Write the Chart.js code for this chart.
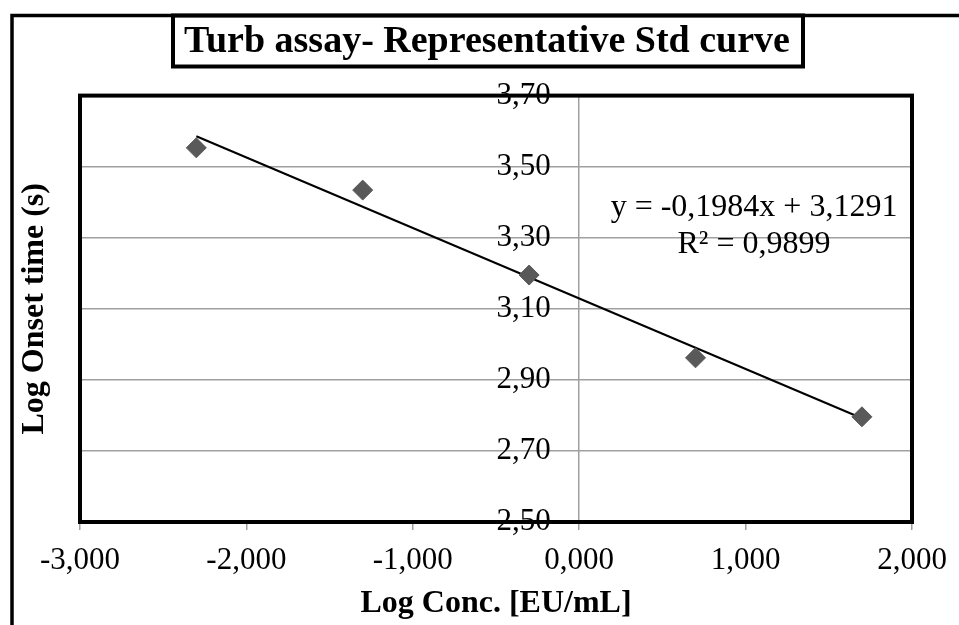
<!DOCTYPE html>
<html>
<head>
<meta charset="utf-8">
<script src="https://cdn.jsdelivr.net/npm/chart.js@4.4.1/dist/chart.umd.min.js"></script>
<style>
  html, body { margin: 0; padding: 0; background: #fff; }
</style>
</head>
<body>
<canvas id="stdcurve" width="959" height="625"></canvas>
<script>
// Data
const logConc = [-2.301, -1.301, -0.301, 0.699, 1.699];
const logOnset = [3.553, 3.434, 3.195, 2.962, 2.796];

// Excel linear trendline shown on the chart
const trendSlope = -0.1984;
const trendIntercept = 3.1291;
const equationLines = ['y = -0,1984x + 3,1291', 'R² = 0,9899'];

const chartTitle = 'Turb assay- Representative Std curve';
const xTitle = 'Log Conc. [EU/mL]';
const yTitle = 'Log Onset time (s)';

const serif = 'Liberation Serif';
const gridGray = '#a0a0a0';

const points = logConc.map((x, i) => ({ x: x, y: logOnset[i] }));
const xFirst = Math.min(...logConc);
const xLast = Math.max(...logConc);
const trendPoints = [xFirst, xLast].map(x => ({ x: x, y: trendSlope * x + trendIntercept }));

// Frames, plot border and the trendline label
const excelLook = {
    id: 'excelLook',
    beforeDraw(chart) {
        const ctx = chart.ctx;
        ctx.save();
        ctx.fillStyle = '#fff';
        ctx.fillRect(0, 0, chart.width, chart.height);
        ctx.strokeStyle = '#000';
        ctx.lineWidth = 3.5;
        ctx.strokeRect(12, 15.5, 2000, 2000);
        ctx.lineWidth = 4;
        ctx.strokeRect(173, 15.5, 630, 51);
        ctx.restore();
    },
    beforeDatasetsDraw(chart) {
        const ctx = chart.ctx;
        const a = chart.chartArea;
        ctx.save();
        ctx.strokeStyle = '#000';
        ctx.lineWidth = 4;
        ctx.strokeRect(a.left, a.top, a.right - a.left, a.bottom - a.top);
        ctx.restore();
    },
    afterDatasetsDraw(chart) {
        const ctx = chart.ctx;
        ctx.save();
        ctx.fillStyle = '#000';
        ctx.font = '32px "' + serif + '"';
        ctx.textAlign = 'center';
        ctx.textBaseline = 'middle';
        equationLines.forEach((line, i) => {
            ctx.fillText(line, 754, 208 + i * 37);
        });
        ctx.restore();
    }
};

const chartconfig = {
    type: 'scatter',
    data: {
        datasets: [
            {
                label: 'Std',
                data: points,
                pointStyle: 'rectRot',
                pointRadius: 10,
                backgroundColor: '#595959',
                borderColor: '#595959',
                borderWidth: 1
            },
            {
                label: 'Linear trend',
                data: trendPoints,
                showLine: true,
                pointRadius: 0,
                borderColor: '#000',
                borderWidth: 2
            }
        ]
    },
    options: {
        responsive: false,
        animation: false,
        layout: { padding: { left: 15, right: 0, top: 0, bottom: 2 } },
        scales: {
            x: {
                type: 'linear',
                position: 'bottom',
                min: -3,
                max: 2,
                ticks: {
                    stepSize: 1,
                    color: '#000',
                    padding: 12,
                    font: { family: serif, size: 31 },
                    callback: v => v.toFixed(3).replace('.', ',')
                },
                // only the value axis line at x = 0 is drawn inside the plot
                grid: {
                    drawOnChartArea: true,
                    tickLength: 8,
                    color: c => (c.tick && c.tick.value === 0 ? gridGray : 'rgba(0,0,0,0)'),
                    tickColor: gridGray,
                    lineWidth: 1.5
                },
                border: { color: gridGray, width: 1.5 },
                title: {
                    display: true,
                    text: xTitle,
                    color: '#000',
                    font: { family: serif, size: 32, weight: 'bold' },
                    padding: { top: 0, bottom: 0 }
                },
                afterFit: s => { s.height = 101; }
            },
            y: {
                type: 'linear',
                // labels sit just left of the vertical axis at x = 0
                position: { x: -0.171 },
                min: 2.5,
                max: 3.7,
                ticks: {
                    stepSize: 0.2,
                    color: '#000',
                    font: { family: serif, size: 31 },
                    callback: v => v.toFixed(2).replace('.', ',')
                },
                grid: { color: gridGray, lineWidth: 1.5, drawTicks: false },
                border: { display: false }
            },
            yTitleAxis: {
                type: 'linear',
                position: 'left',
                ticks: { display: false },
                grid: { display: false },
                border: { display: false },
                title: {
                    display: true,
                    text: yTitle,
                    color: '#000',
                    font: { family: serif, size: 32, weight: 'bold' },
                    padding: { top: 1, bottom: 0 }
                },
                afterFit: s => { s.width = 65; }
            },
            yRightSpace: {
                type: 'linear',
                position: 'right',
                ticks: { display: false },
                grid: { display: false },
                border: { display: false },
                afterFit: s => { s.width = 47; }
            }
        },
        plugins: {
            legend: { display: false },
            tooltip: { enabled: false },
            title: {
                display: true,
                text: chartTitle,
                color: '#000',
                font: { family: serif, size: 38, weight: 'bold' },
                padding: { top: 19, bottom: 31 }
            }
        }
    },
    plugins: [excelLook]
};

const canvas = document.getElementById('stdcurve');
if (canvas) {
    new Chart(canvas, chartconfig);
} else {
    console.error('Canvas element "stdcurve" not found');
}
</script>
</body>
</html>
